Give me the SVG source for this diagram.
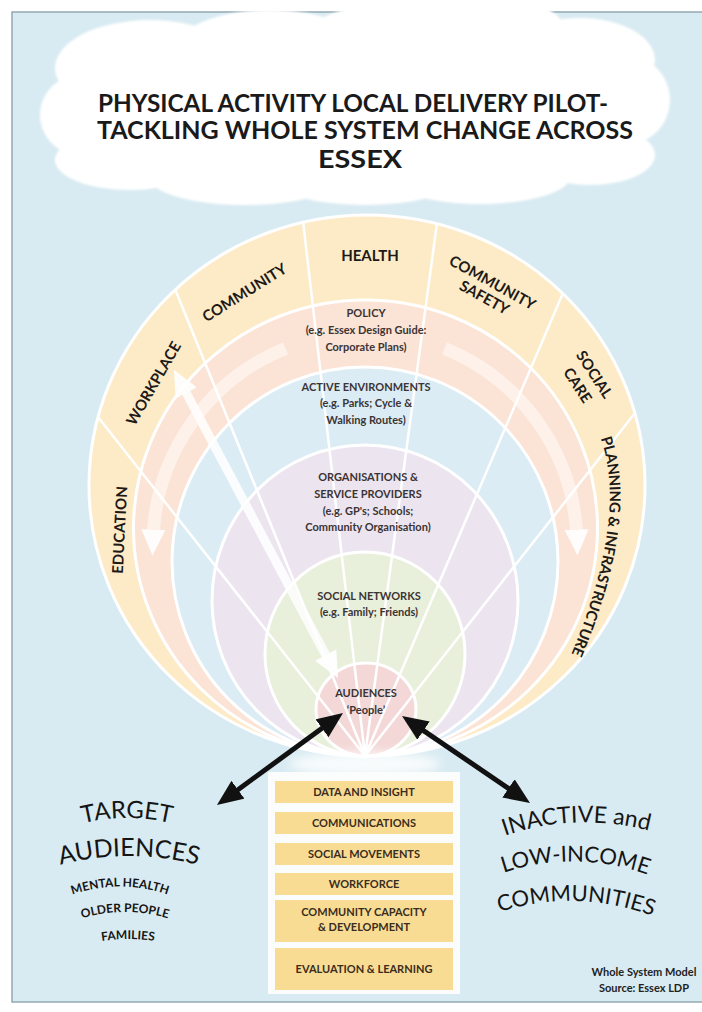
<svg xmlns="http://www.w3.org/2000/svg" width="702" height="1012" viewBox="0 0 702 1012">
<defs>
<style>
.lbl{font-family:Lato,"Liberation Sans",sans-serif;font-weight:700;fill:#3b3434;font-size:11px;text-anchor:middle}
.sec{font-family:Lato,"Liberation Sans",sans-serif;font-weight:700;fill:#1d1a17;font-size:15px;text-anchor:middle;dominant-baseline:central}
.box{fill:#f9dc93}
.btx{font-family:Lato,"Liberation Sans",sans-serif;font-weight:700;fill:#3a2d20;font-size:11px;text-anchor:middle}
.ring{stroke:#ffffff;stroke-width:3}
.spoke{stroke:#ffffff;stroke-width:2.5;fill:none}
.big{font-family:Lato,"Liberation Sans",sans-serif;fill:#151515;text-anchor:middle}
.title{font-family:Lato,"Liberation Sans",sans-serif;font-weight:700;fill:#1a1a1a;font-size:24px;text-anchor:middle}
.blk{stroke:#111111;stroke-width:5;fill:none}
</style>
<marker id="blk" markerUnits="userSpaceOnUse" markerWidth="26" markerHeight="22" viewBox="0 0 26 22" refX="8" refY="11" orient="auto-start-reverse"><path d="M0,0 L26,11 L0,22 z" fill="#111111"/></marker>
<marker id="wht" markerUnits="userSpaceOnUse" markerWidth="26" markerHeight="24" viewBox="0 0 26 24" refX="8" refY="12" orient="auto-start-reverse"><path d="M0,0 L26,12 L0,24 z" fill="#ffffff"/></marker>
<filter id="soft" x="-10%" y="-10%" width="120%" height="120%"><feGaussianBlur stdDeviation="1.3"/></filter>
<filter id="glow" x="-50%" y="-50%" width="200%" height="200%"><feGaussianBlur stdDeviation="5"/></filter>
<path id="pPlan" d="M602,425 Q640,512 572,668"/>
<path id="pTarget" d="M80,824 Q127,812 174,824"/>
<path id="pAud" d="M56,866 Q129,846 202,866"/>
<path id="pMent" d="M66,897 Q120,876 174,897"/>
<path id="pOld" d="M74,921 Q125,903 176,921"/>
<path id="pFam" d="M96,942 Q128,936 160,942"/>
<path id="pInact" d="M496,839 Q574,809 658,833"/>
<path id="pLow" d="M497,875 Q575,847 654,877"/>
<path id="pComm" d="M494,914 Q575,886 658,918"/>
</defs>

<rect x="0" y="0" width="702" height="1012" fill="#ffffff"/>
<rect id="panel" x="12" y="12" width="700" height="990" fill="#d9ebf2" stroke="#93a9b3" stroke-width="1.5"/>

<g id="title-cloud">
<g fill="#ffffff" filter="url(#soft)">
<ellipse cx="355" cy="112" rx="290" ry="72"/>
<ellipse cx="150" cy="68" rx="95" ry="48"/>
<ellipse cx="270" cy="50" rx="95" ry="40"/>
<ellipse cx="390" cy="40" rx="85" ry="36"/>
<ellipse cx="490" cy="30" rx="75" ry="32"/>
<ellipse cx="580" cy="60" rx="75" ry="42"/>
<ellipse cx="85" cy="115" rx="45" ry="42"/>
<ellipse cx="625" cy="100" rx="45" ry="45"/>
<ellipse cx="130" cy="160" rx="75" ry="30"/>
<ellipse cx="245" cy="178" rx="95" ry="27"/>
<ellipse cx="365" cy="183" rx="85" ry="22"/>
<ellipse cx="480" cy="177" rx="90" ry="27"/>
<ellipse cx="590" cy="155" rx="65" ry="30"/>
</g>
<text class="title" x="353" y="112" textLength="510" lengthAdjust="spacingAndGlyphs">PHYSICAL ACTIVITY LOCAL DELIVERY PILOT-</text>
<text class="title" x="365" y="139" textLength="536" lengthAdjust="spacingAndGlyphs">TACKLING WHOLE SYSTEM CHANGE ACROSS</text>
<text class="title" x="360" y="168" textLength="84" lengthAdjust="spacingAndGlyphs">ESSEX</text>
</g>

<g id="rings">
<ellipse id="ring-sectors" class="ring" cx="367" cy="485.5" rx="278" ry="270.5" fill="#fdebc7"/>
<ellipse id="ring-policy" class="ring" cx="365.5" cy="528" rx="232" ry="228" fill="#fbe3d5"/>
<ellipse id="ring-active" class="ring" cx="365" cy="561.5" rx="193" ry="194.5" fill="#dcecf4"/>
<ellipse id="ring-organisations" class="ring" cx="365" cy="600.5" rx="153" ry="155.5" fill="#ece5f0"/>
<ellipse id="ring-social" class="ring" cx="365" cy="654" rx="100" ry="102" fill="#e8efda"/>
<ellipse id="ring-audiences" class="ring" cx="366" cy="709.5" rx="50" ry="46.5" fill="#f4d8d8"/>
</g>

<g id="spokes" class="spoke">
<line x1="303" y1="221" x2="365" y2="756"/>
<line x1="437" y1="223" x2="365" y2="756"/>
<line x1="175" y1="289" x2="365" y2="756"/>
<line x1="563" y1="293" x2="365" y2="756"/>
<line x1="98" y1="417" x2="365" y2="756"/>
<line x1="635" y1="413" x2="365" y2="756"/>
</g>

<g id="connectors">
<g id="flow-arrows" opacity="0.95">
<path d="M285.6,348.4 A212,212 0 0 0 153.1,537.6" stroke="#ffffff" stroke-width="13" stroke-opacity="0.5" fill="none" marker-end="url(#wht)"/>
<path d="M444.4,348.4 A212,212 0 0 1 576.9,537.6" stroke="#ffffff" stroke-width="13" stroke-opacity="0.5" fill="none" marker-end="url(#wht)"/>
<line x1="182.5" y1="385.9" x2="329.5" y2="662.1" stroke="#ffffff" stroke-width="9" stroke-opacity="0.9" marker-start="url(#wht)" marker-end="url(#wht)"/>
</g>
<ellipse cx="365" cy="764" rx="75" ry="12" fill="#ffffff" opacity="0.8" filter="url(#glow)"/>
<line class="blk" x1="328.5" y1="723.6" x2="231.5" y2="794.4" marker-start="url(#blk)" marker-end="url(#blk)"/>
<line class="blk" x1="416.9" y1="726.1" x2="515.1" y2="792.9" marker-start="url(#blk)" marker-end="url(#blk)"/>
</g>

<g id="sector-labels">
<g id="sec-health"><text class="sec" x="370" y="255">HEALTH</text></g>
<g id="sec-community"><text class="sec" transform="translate(244,292) rotate(-32)">COMMUNITY</text></g>
<g id="sec-workplace"><text class="sec" transform="translate(153,383) rotate(-60)">WORKPLACE</text></g>
<g id="sec-education"><text class="sec" transform="translate(119,530) rotate(-87)">EDUCATION</text></g>
<g id="sec-community-safety" transform="translate(493,282) rotate(29)"><text class="sec" x="0" y="0">COMMUNITY</text><text class="sec" x="0" y="17">SAFETY</text></g>
<g id="sec-social-care" transform="translate(595,374) rotate(57)"><text class="sec" x="0" y="0">SOCIAL</text><text class="sec" x="0" y="20">CARE</text></g>
<g id="sec-planning"><text class="sec" font-size="14"><textPath href="#pPlan" startOffset="50%">PLANNING &amp; INFRASTRUCTURE</textPath></text></g>
</g>

<g id="ring-labels">
<g id="lbl-policy"><text class="lbl" x="366" y="317">POLICY</text><text class="lbl" x="366" y="334">(e.g. Essex Design Guide:</text><text class="lbl" x="366" y="351">Corporate Plans)</text></g>
<g id="lbl-active"><text class="lbl" x="366" y="391">ACTIVE ENVIRONMENTS</text><text class="lbl" x="366" y="407">(e.g. Parks; Cycle &amp;</text><text class="lbl" x="366" y="424">Walking Routes)</text></g>
<g id="lbl-organisations"><text class="lbl" x="368" y="481">ORGANISATIONS &amp;</text><text class="lbl" x="368" y="498">SERVICE PROVIDERS</text><text class="lbl" x="368" y="515">(e.g. GP's; Schools;</text><text class="lbl" x="368" y="531">Community Organisation)</text></g>
<g id="lbl-social"><text class="lbl" x="369" y="600">SOCIAL NETWORKS</text><text class="lbl" x="369" y="616">(e.g. Family; Friends)</text></g>
<g id="lbl-audiences"><text class="lbl" x="366" y="697">AUDIENCES</text><text class="lbl" x="366" y="714" font-size="10">‘People’</text></g>
</g>

<g id="enablers">
<rect x="268" y="772" width="192" height="222" fill="#fbfdfd"/>
<g id="box-data"><rect class="box" x="275" y="781" width="178" height="22"/><text class="btx" x="364" y="796">DATA AND INSIGHT</text></g>
<g id="box-comms"><rect class="box" x="275" y="812" width="178" height="22"/><text class="btx" x="364" y="827">COMMUNICATIONS</text></g>
<g id="box-social"><rect class="box" x="275" y="843" width="178" height="22"/><text class="btx" x="364" y="858">SOCIAL MOVEMENTS</text></g>
<g id="box-workforce"><rect class="box" x="275" y="873" width="178" height="22"/><text class="btx" x="364" y="888">WORKFORCE</text></g>
<g id="box-capacity"><rect class="box" x="275" y="900" width="178" height="42"/><text class="btx" x="364" y="916">COMMUNITY CAPACITY</text><text class="btx" x="364" y="931">&amp; DEVELOPMENT</text></g>
<g id="box-evaluation"><rect class="box" x="275" y="948" width="178" height="42"/><text class="btx" x="364" y="973">EVALUATION &amp; LEARNING</text></g>
</g>

<g id="target-audiences">
<text class="big" font-size="24"><textPath href="#pTarget" startOffset="50%">TARGET</textPath></text>
<text class="big" font-size="25"><textPath href="#pAud" startOffset="50%">AUDIENCES</textPath></text>
<text class="big" font-size="12" font-weight="700"><textPath href="#pMent" startOffset="50%">MENTAL HEALTH</textPath></text>
<text class="big" font-size="12" font-weight="700"><textPath href="#pOld" startOffset="50%">OLDER PEOPLE</textPath></text>
<text class="big" font-size="12" font-weight="700"><textPath href="#pFam" startOffset="50%">FAMILIES</textPath></text>
</g>

<g id="inactive-communities">
<text class="big" font-size="23"><textPath href="#pInact" startOffset="50%">INACTIVE and</textPath></text>
<text class="big" font-size="22"><textPath href="#pLow" startOffset="50%">LOW-INCOME</textPath></text>
<text class="big" font-size="22"><textPath href="#pComm" startOffset="50%">COMMUNITIES</textPath></text>
</g>

<g id="source-note">
<text class="btx" x="644" y="976" style="fill:#222222">Whole System Model</text>
<text class="btx" x="644" y="992" style="fill:#222222">Source: Essex LDP</text>
</g>
</svg>
